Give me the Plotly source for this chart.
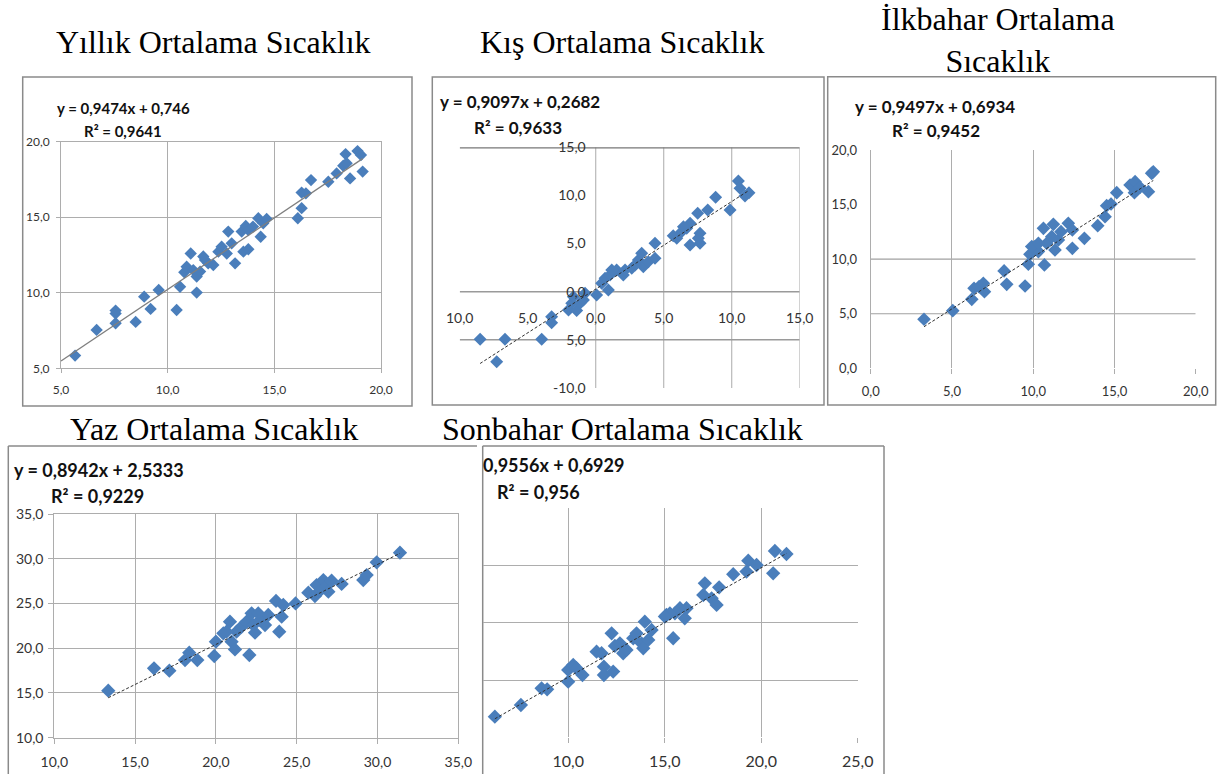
import plotly.graph_objects as go

W, H = 1221, 774
def fx(p): return p / W
def fy(p): return 1 - p / H

# ---------------- data ----------------
yillik_x = [5.66, 6.67, 7.56, 7.56, 7.56, 8.5, 8.9, 9.2, 9.58, 10.42, 10.58, 10.78, 10.89, 11.08, 11.2,
            11.36, 11.36, 11.52, 11.75, 11.9, 12.14, 12.38, 12.53, 12.77, 12.84, 13.0, 13.16, 13.47,
            13.55, 13.66, 13.78, 13.78, 14.25, 14.36, 14.48, 14.64, 16.1, 16.28, 16.28, 16.48, 16.72,
            17.53, 17.92, 18.23, 18.34, 18.55, 18.9, 19.06, 19.14, 18.39, 14.0, 11.67]
yillik_y = [5.84, 7.54, 7.98, 8.62, 8.82, 8.07, 9.74, 8.93, 10.18, 8.86, 10.4, 11.36, 11.73, 12.6, 11.5,
            10.01, 11.07, 11.4, 12.17, 11.95, 11.84, 12.72, 13.05, 12.6, 14.05, 13.27, 11.95, 14.05,
            12.72, 14.42, 12.88, 14.15, 14.93, 13.71, 14.6, 14.89, 14.93, 15.6, 16.63, 16.58, 17.46,
            17.35, 17.9, 18.41, 19.18, 17.57, 19.38, 19.12, 18.02, 18.57, 14.38, 12.4]

kis_x = [-8.5, -7.28, -6.67, -3.97, -3.24, -3.24, -2.0, -1.76, -1.64, -1.4, -1.15, -0.9, -0.78, 0.07,
         0.44, 0.69, 0.93, 1.05, 1.54, 2.03, 2.16, 2.65, 3.14, 3.38, 3.5, 3.87, 4.36, 5.96, 6.32, 6.69,
         6.94, 6.94, 7.5, 7.67, 7.67, 7.55, 8.24, 8.82, 9.88, 10.49, 10.61, 10.98, 11.27, 4.36, 2.9,
         1.18, 5.7, 6.45]
kis_y = [-4.95, -7.27, -4.95, -4.95, -3.22, -2.6, -1.9, -1.21, -0.52, -1.97, -1.21, -0.87, -0.17, -0.35,
         0.87, 1.39, 0.17, 1.73, 2.25, 1.73, 2.25, 2.42, 3.29, 3.98, 2.6, 3.12, 5.02, 5.54, 6.23, 6.58,
         7.1, 4.85, 8.14, 6.06, 5.02, 5.54, 8.49, 9.8, 8.49, 11.5, 10.74, 9.94, 10.29, 3.46, 2.77,
         2.25, 5.82, 6.75]

ilkbahar_x = [3.28, 5.05, 6.22, 6.36, 6.67, 6.93, 7.0, 8.21, 8.37, 9.5, 9.7, 9.8, 10.11, 10.32, 10.63,
              10.69, 10.83, 11.14, 11.24, 11.34, 11.55, 11.71, 12.16, 12.41, 12.41, 13.15, 13.97, 14.42,
              14.52, 14.79, 15.14, 15.96, 16.27, 16.23, 16.57, 17.09, 17.29, 17.39, 9.91, 10.32]
ilkbahar_y = [4.49, 5.28, 6.32, 7.33, 7.48, 7.79, 7.02, 8.92, 7.69, 7.54, 9.53, 10.44, 11.15, 10.69, 12.82,
              9.47, 11.45, 12.06, 13.19, 10.84, 11.76, 12.52, 13.28, 12.67, 10.99, 11.91, 13.07, 13.89,
              14.9, 15.05, 16.09, 16.79, 17.1, 16.09, 16.58, 16.18, 17.86, 18.0, 11.15, 11.45]

yaz_x = [13.34, 16.17, 17.12, 18.09, 18.35, 18.85, 19.9, 20.0, 20.46, 20.87, 20.97, 21.18, 21.28, 21.59,
         21.9, 22.07, 22.21, 22.31, 22.42, 22.73, 23.04, 23.24, 23.72, 23.92, 24.07, 24.17, 24.93, 25.72,
         26.13, 26.23, 26.44, 26.65, 26.85, 26.96, 27.16, 27.78, 29.12, 29.33, 29.95, 31.39, 20.66, 22.62]
yaz_y = [15.25, 17.75, 17.49, 18.68, 19.5, 18.68, 19.13, 20.73, 21.66, 22.97, 20.73, 19.87, 21.85, 22.41,
         22.97, 19.24, 23.9, 22.59, 21.74, 23.15, 22.59, 23.71, 25.28, 21.85, 23.52, 24.83, 25.01, 26.21,
         25.83, 27.06, 26.43, 27.62, 26.95, 26.32, 27.55, 27.18, 27.62, 28.18, 29.6, 30.68, 21.85, 23.9]

sonbahar_x = [6.2, 7.55, 8.62, 8.91, 10.0, 10.0, 10.26, 10.43, 10.74, 11.47, 11.73, 11.85, 11.85, 12.25,
              12.33, 12.42, 12.68, 12.85, 13.02, 13.37, 13.54, 13.8, 13.89, 13.97, 14.15, 14.32, 15.09,
              15.44, 15.53, 15.79, 16.04, 16.13, 17.08, 17.0, 17.43, 17.69, 17.82, 18.55, 19.33, 19.24,
              19.76, 20.62, 20.71, 21.31, 15.27, 15.01]
sonbahar_y = [6.8, 7.82, 9.28, 9.19, 9.86, 10.88, 11.32, 11.03, 10.44, 12.48, 12.34, 11.17, 10.44, 14.08,
              10.74, 12.98, 13.21, 12.34, 12.63, 13.65, 14.08, 13.21, 12.77, 15.1, 13.5, 14.37, 15.68,
              13.65, 15.83, 16.27, 15.39, 16.27, 18.45, 17.43, 17.14, 16.56, 18.1, 19.24, 20.43, 19.47,
              20.05, 19.32, 21.27, 21.01, 15.83, 15.54]

# regression equations (slope, intercept) as printed on the chart, and trendline extents
slopes = [0.9474, 0.9097, 0.9497, 0.8942, 0.9556]
intercepts = [0.746, 0.2682, 0.6934, 2.5333, 0.6929]
trend_x = [[5.0, 19.14], [-8.5, 11.27], [3.28, 17.39], [13.34, 31.39], [6.2, 21.31]]

titles = ["Yıllık Ortalama Sıcaklık", "Kış Ortalama Sıcaklık", "İlkbahar Ortalama<br>Sıcaklık",
          "Yaz Ortalama Sıcaklık", "Sonbahar Ortalama Sıcaklık"]
eq_lines = ["y = 0,9474x + 0,746", "y = 0,9097x + 0,2682", "y = 0,9497x + 0,6934",
            "y = 0,8942x + 2,5333", "0,9556x + 0,6929"]
r2_lines = ["R² = 0,9641", "R² = 0,9633", "R² = 0,9452", "R² = 0,9229", "R² = 0,956"]

tick_5_20 = [5, 10, 15, 20]
tick_0_20 = [0, 5, 10, 15, 20]
tick_10_35 = [10, 15, 20, 25, 30, 35]
tick_10_25 = [10, 15, 20, 25]
kis_tickvals = [-10, -5, 0, 5, 10, 15]
kis_xticktext = ["10,0", "5,0", "0,0", "5,0", "10,0", "15,0"]
kis_yticktext = ["-10,0", "5,0", "0,0", "5,0", "10,0", "15,0"]

def lab(vals):
    return [f"{v:.1f}".replace(".", ",") for v in vals]

# ---------------- figure ----------------
BLUE = "#4a7ebb"
GRID = "#adadad"
BORDER = "#8a8a8a"
TICKC = "#333333"
SANS = "Lato"
SERIF = "Liberation Serif"

fig = go.Figure()

series = [(yillik_x, yillik_y, "x", "y", 9.5),
          (kis_x, kis_y, "x2", "y2", 10),
          (ilkbahar_x, ilkbahar_y, "x3", "y3", 10.5),
          (yaz_x, yaz_y, "x4", "y4", 11),
          (sonbahar_x, sonbahar_y, "x5", "y5", 11)]

for i, (xs, ys, xa, ya, ms) in enumerate(series):
    fig.add_trace(go.Scatter(x=xs, y=ys, mode="markers", xaxis=xa, yaxis=ya,
                             marker=dict(symbol="diamond", size=ms, color=BLUE,
                                         line=dict(width=0)),
                             showlegend=False, hoverinfo="skip"))
    tx = trend_x[i]
    ty = [slopes[i] * v + intercepts[i] for v in tx]
    if i == 0:
        ln = dict(color="#7f7f7f", width=1.3)
    else:
        ln = dict(color="#303030", width=1, dash="3px,2px")
    fig.add_trace(go.Scatter(x=tx, y=ty, mode="lines", xaxis=xa, yaxis=ya, line=ln,
                             showlegend=False, hoverinfo="skip"))

def dom_x(a, b): return [fx(a), fx(b)]
def dom_y(top, bottom): return [fy(bottom), fy(top)]

common = dict(zeroline=False, fixedrange=True, automargin=False)

layout = dict(
    width=W, height=H, margin=dict(l=0, r=0, t=0, b=0, autoexpand=False),
    paper_bgcolor="white", plot_bgcolor="rgba(0,0,0,0)", showlegend=False,
    # Panel 1: Yıllık
    xaxis=dict(domain=dom_x(61, 381), range=[5, 20], anchor="y", tickvals=tick_5_20,
               ticktext=lab(tick_5_20), showgrid=True, gridcolor=GRID, showline=True,
               linecolor=GRID, mirror=True, ticks="outside", ticklen=4, tickcolor=GRID,
               tickfont=dict(family=SANS, size=12, color=TICKC), ticklabelstandoff=6, **common),
    yaxis=dict(domain=dom_y(141.7, 368.3), range=[5, 20], anchor="x", tickvals=tick_5_20,
               ticktext=lab(tick_5_20), showgrid=True, gridcolor=GRID, showline=True,
               linecolor=GRID, mirror=True, ticks="outside", ticklen=4, tickcolor=GRID,
               tickfont=dict(family=SANS, size=12, color=TICKC), ticklabelstandoff=4, **common),
    # Panel 2: Kış (axes crossing at zero)
    xaxis2=dict(domain=dom_x(459.7, 799.7), range=[-10, 15], anchor="free", position=fy(291.7),
                tickvals=kis_tickvals, ticktext=kis_xticktext, showgrid=False, showline=False,
                ticks="", tickfont=dict(family=SANS, size=14, color=TICKC),
                ticklabelstandoff=16, **common),
    yaxis2=dict(domain=dom_y(147.3, 387.9), range=[-10, 15], anchor="free", position=fx(595.7),
                tickvals=kis_tickvals, ticktext=kis_yticktext, showgrid=False, showline=False,
                ticks="", tickfont=dict(family=SANS, size=14, color=TICKC),
                ticklabelstandoff=10, **common),
    # Panel 3: İlkbahar
    xaxis3=dict(domain=dom_x(870.7, 1195.7), range=[0, 20], anchor="y3", tickvals=tick_0_20,
                ticktext=lab(tick_0_20), showgrid=True, gridcolor=GRID, showline=False,
                ticks="outside", ticklen=5, tickcolor=GRID,
                tickfont=dict(family=SANS, size=13, color=TICKC), ticklabelstandoff=6, **common),
    yaxis3=dict(domain=dom_y(150, 368.3), range=[0, 20], anchor="x3", tickvals=tick_0_20,
                ticktext=lab(tick_0_20), showgrid=False, showline=True, linecolor=GRID,
                ticks="", tickfont=dict(family=SANS, size=13, color=TICKC),
                ticklabelstandoff=10, **common),
    # Panel 4: Yaz
    xaxis4=dict(domain=dom_x(54.3, 458.3), range=[10, 35], anchor="y4", tickvals=tick_10_35,
                ticktext=lab(tick_10_35), showgrid=True, gridcolor=GRID, showline=True,
                linecolor=GRID, mirror=True, ticks="outside", ticklen=5, tickcolor=GRID,
                tickfont=dict(family=SANS, size=14, color=TICKC), ticklabelstandoff=6, **common),
    yaxis4=dict(domain=dom_y(514, 737.7), range=[10, 35], anchor="x4", tickvals=tick_10_35,
                ticktext=lab(tick_10_35), showgrid=True, gridcolor=GRID, showline=True,
                linecolor=GRID, mirror=True, ticks="outside", ticklen=5, tickcolor=GRID,
                tickfont=dict(family=SANS, size=14, color=TICKC), ticklabelstandoff=2, **common),
    # Panel 5: Sonbahar (left part hidden)
    xaxis5=dict(domain=dom_x(482.7, 857.7), range=[5.57, 25], anchor="y5", tickvals=tick_10_25,
                ticktext=lab(tick_10_25), showgrid=True, gridcolor=GRID, showline=False,
                ticks="outside", ticklen=5, tickcolor=GRID,
                tickfont=dict(family=SANS, size=16, color=TICKC), ticklabelstandoff=4, **common),
    yaxis5=dict(domain=dom_y(508.3, 737.3), range=[5, 25], anchor="x5", tickvals=tick_10_25,
                showticklabels=False, showgrid=True, gridcolor=GRID, showline=False,
                ticks="", **common),
)
fig.update_layout(**layout)

shapes = []
# panel borders (paper coordinates)
def rect(x0, y0, x1, y1):
    return dict(type="rect", xref="paper", yref="paper", x0=fx(x0), x1=fx(x1), y0=fy(y1), y1=fy(y0),
                line=dict(color=BORDER, width=1.5), fillcolor="rgba(0,0,0,0)", layer="below")
def seg(x0, y0, x1, y1, color=BORDER, width=1.5):
    return dict(type="line", xref="paper", yref="paper", x0=fx(x0), x1=fx(x1), y0=fy(y0), y1=fy(y1),
                line=dict(color=color, width=width), layer="below")
shapes += [rect(22.7, 77, 412, 406), rect(432.3, 77, 824, 405), rect(827.7, 76.7, 1215.7, 405),
           seg(8.3, 446, 477, 446), seg(8.3, 446, 8.3, 780),
           seg(482.7, 446, 884, 446), seg(482.7, 446, 482.7, 780), seg(884, 446, 884, 780)]

# Kış grid lines (data coordinates)
for v in [0, 5, 10, 15]:
    shapes.append(dict(type="line", xref="x2", yref="y2", x0=v, x1=v, y0=-10, y1=15,
                       line=dict(color="#b8b8b8", width=1.2), layer="below"))
for v, c, w in [(0, "#9a9a9a", 1.5), (-5, "#9a9a9a", 1.5), (15, "#777777", 2.5)]:
    shapes.append(dict(type="line", xref="x2", yref="y2", x0=-10, x1=15, y0=v, y1=v,
                       line=dict(color=c, width=w), layer="below"))
# İlkbahar horizontal grid lines
for v in [5, 10]:
    shapes.append(dict(type="line", xref="x3", yref="y3", x0=0, x1=20, y0=v, y1=v,
                       line=dict(color="#a0a0a0", width=1.2), layer="below"))
fig.update_layout(shapes=shapes)

ann = []
# titles
title_pos = [(213, 42), (622, 42), (998, 40), (214, 429), (622, 429)]
for t, (cx, cy) in zip(titles, title_pos):
    ann.append(dict(text=t, xref="paper", yref="paper", x=fx(cx), y=fy(cy), xanchor="center",
                    yanchor="middle", showarrow=False,
                    font=dict(family=SERIF, size=32, color="black")))
# equations
eq_pos = [((55, 108), (82, 131), 15), ((437.7, 101.7), (471.7, 127.3), 17),
          ((853, 106.7), (890, 130), 17), ((11.7, 470), (49, 496), 18),
          ((481, 465), (495, 491.7), 18)]
for e, r, ((ex, ey), (rx, ry), fs) in zip(eq_lines, r2_lines, eq_pos):
    ann.append(dict(text=f"<b>{e}</b>", xref="paper", yref="paper", x=fx(ex), y=fy(ey),
                    xanchor="left", yanchor="middle", showarrow=False,
                    font=dict(family=SANS, size=fs, color="#111111")))
    ann.append(dict(text=f"<b>{r}</b>", xref="paper", yref="paper", x=fx(rx), y=fy(ry),
                    xanchor="left", yanchor="middle", showarrow=False,
                    font=dict(family=SANS, size=fs, color="#111111")))
fig.update_layout(annotations=ann)

fig.write_html("out.html", config={"displayModeBar": False},
               post_script="document.body.style.margin='0';document.body.style.overflow='hidden';")
